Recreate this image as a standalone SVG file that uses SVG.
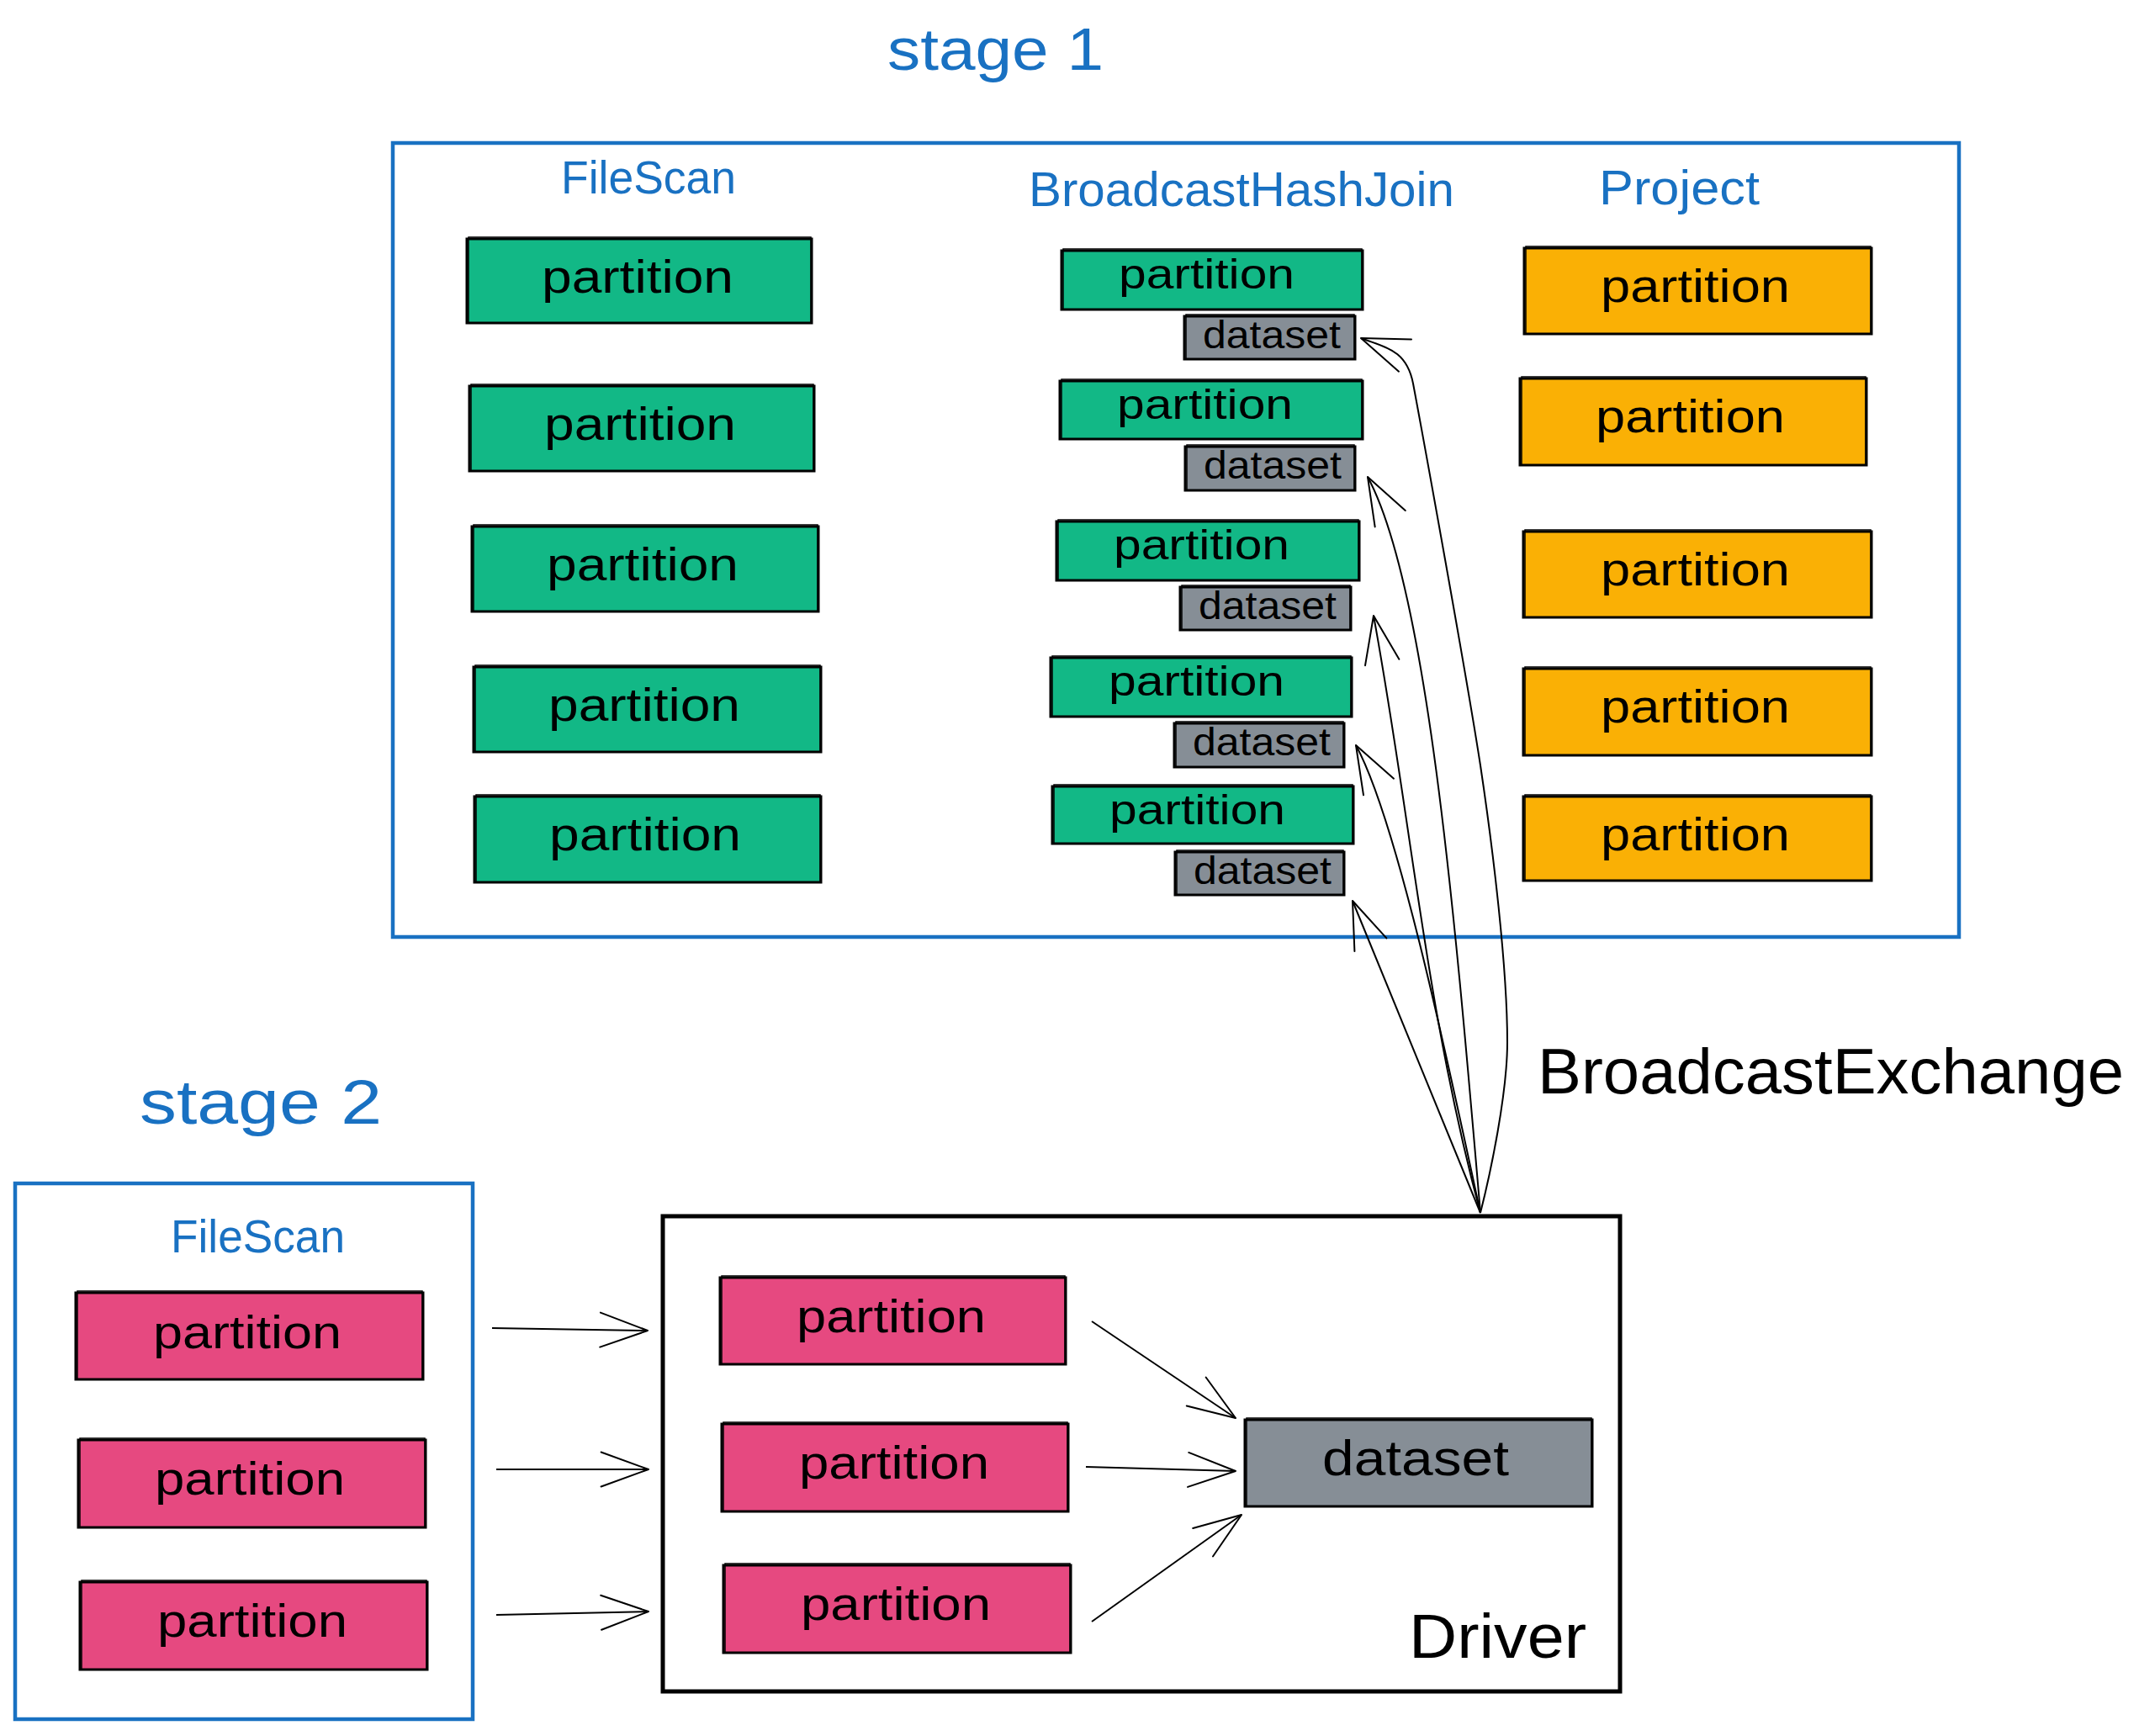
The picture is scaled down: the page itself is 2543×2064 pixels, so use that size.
<svg xmlns="http://www.w3.org/2000/svg" width="2543" height="2064" viewBox="0 0 2543 2064">
<defs>
<style>
.lbl{font-family:"Liberation Sans",Arial,sans-serif;fill:#1971c2}
.t{font-family:"Liberation Sans",Arial,sans-serif;fill:#000}
.box{stroke:#000;stroke-width:3}
.g{fill:#12b886}.o{fill:#fab005}.p{fill:#e64980}.d{fill:#868e96}
.sk{fill:none;stroke:#000;stroke-width:1.5}
.ctr{fill:none;stroke:#1971c2;stroke-width:4.5}
.drv{fill:none;stroke:#000;stroke-width:5}
.arr{fill:none;stroke:#000;stroke-width:2;marker-end:url(#ah)}
.f56{font-size:56px}.f50{font-size:50px}.f46{font-size:46px}.f60{font-size:60px}
</style>
<marker id="ah" markerUnits="userSpaceOnUse" viewBox="-70 -30 80 60" refX="0" refY="0" markerWidth="80" markerHeight="60" orient="auto" overflow="visible">
<path d="M-56.4,-20.5 L0,0 L-56.4,20.5" fill="none" stroke="#000" stroke-width="2" stroke-linecap="round" stroke-linejoin="round"/>
</marker>
</defs>
<rect width="2543" height="2064" fill="#fff"/>

<g id="stage1-title"><text class="lbl" x="1055" y="83" font-size="70" textLength="257" lengthAdjust="spacingAndGlyphs">stage 1</text></g>
<g id="stage1"><rect class="ctr" x="467" y="170" width="1862" height="944"/></g>
<g id="filescan1-label"><text class="lbl" x="667" y="230" font-size="56" textLength="208" lengthAdjust="spacingAndGlyphs">FileScan</text></g>
<g id="bhj-label"><text class="lbl" x="1223" y="245" font-size="58" textLength="506" lengthAdjust="spacingAndGlyphs">BroadcastHashJoin</text></g>
<g id="project-label"><text class="lbl" x="1901" y="243" font-size="58" textLength="191" lengthAdjust="spacingAndGlyphs">Project</text></g>

<g id="fs1-p1"><rect class="box g" x="555" y="284" width="410" height="100"/><rect class="sk" x="557" y="282" width="407" height="102"/><text class="t f56" x="644" y="348" textLength="228" lengthAdjust="spacingAndGlyphs">partition</text></g>
<g id="fs1-p2"><rect class="box g" x="558" y="459" width="410" height="101"/><rect class="sk" x="560" y="457" width="407" height="103"/><text class="t f56" x="647" y="523" textLength="228" lengthAdjust="spacingAndGlyphs">partition</text></g>
<g id="fs1-p3"><rect class="box g" x="561" y="626" width="412" height="101"/><rect class="sk" x="563" y="624" width="409" height="103"/><text class="t f56" x="650" y="690" textLength="228" lengthAdjust="spacingAndGlyphs">partition</text></g>
<g id="fs1-p4"><rect class="box g" x="563" y="793" width="413" height="101"/><rect class="sk" x="565" y="791" width="410" height="103"/><text class="t f56" x="652" y="857" textLength="228" lengthAdjust="spacingAndGlyphs">partition</text></g>
<g id="fs1-p5"><rect class="box g" x="564" y="947" width="412" height="102"/><rect class="sk" x="566" y="945" width="409" height="104"/><text class="t f56" x="653" y="1011" textLength="228" lengthAdjust="spacingAndGlyphs">partition</text></g>

<g id="bhj-p1"><rect class="box g" x="1262" y="298" width="358" height="70"/><rect class="sk" x="1264" y="296" width="355" height="72"/><text class="t f50" x="1330" y="343" textLength="209" lengthAdjust="spacingAndGlyphs">partition</text></g>
<g id="bhj-d1"><rect class="box d" x="1408" y="376" width="203" height="51"/><rect class="sk" x="1410" y="374" width="200" height="53"/><text class="t f46" x="1430" y="414" textLength="164" lengthAdjust="spacingAndGlyphs">dataset</text></g>
<g id="bhj-p2"><rect class="box g" x="1260" y="453" width="360" height="69"/><rect class="sk" x="1262" y="451" width="357" height="71"/><text class="t f50" x="1328" y="498" textLength="209" lengthAdjust="spacingAndGlyphs">partition</text></g>
<g id="bhj-d2"><rect class="box d" x="1409" y="531" width="202" height="52"/><rect class="sk" x="1411" y="529" width="199" height="54"/><text class="t f46" x="1431" y="569" textLength="164" lengthAdjust="spacingAndGlyphs">dataset</text></g>
<g id="bhj-p3"><rect class="box g" x="1256" y="620" width="360" height="70"/><rect class="sk" x="1258" y="618" width="357" height="72"/><text class="t f50" x="1324" y="665" textLength="209" lengthAdjust="spacingAndGlyphs">partition</text></g>
<g id="bhj-d3"><rect class="box d" x="1403" y="698" width="203" height="51"/><rect class="sk" x="1405" y="696" width="200" height="53"/><text class="t f46" x="1425" y="736" textLength="164" lengthAdjust="spacingAndGlyphs">dataset</text></g>
<g id="bhj-p4"><rect class="box g" x="1249" y="782" width="358" height="70"/><rect class="sk" x="1251" y="780" width="355" height="72"/><text class="t f50" x="1318" y="827" textLength="209" lengthAdjust="spacingAndGlyphs">partition</text></g>
<g id="bhj-d4"><rect class="box d" x="1396" y="860" width="202" height="52"/><rect class="sk" x="1398" y="858" width="199" height="54"/><text class="t f46" x="1418" y="898" textLength="164" lengthAdjust="spacingAndGlyphs">dataset</text></g>
<g id="bhj-p5"><rect class="box g" x="1251" y="935" width="358" height="68"/><rect class="sk" x="1253" y="933" width="355" height="70"/><text class="t f50" x="1319" y="980" textLength="209" lengthAdjust="spacingAndGlyphs">partition</text></g>
<g id="bhj-d5"><rect class="box d" x="1397" y="1013" width="201" height="51"/><rect class="sk" x="1399" y="1011" width="198" height="53"/><text class="t f46" x="1419" y="1051" textLength="164" lengthAdjust="spacingAndGlyphs">dataset</text></g>

<g id="proj-p1"><rect class="box o" x="1812" y="295" width="413" height="102"/><rect class="sk" x="1814" y="293" width="410" height="104"/><text class="t f56" x="1903" y="359" textLength="225" lengthAdjust="spacingAndGlyphs">partition</text></g>
<g id="proj-p2"><rect class="box o" x="1807" y="450" width="412" height="103"/><rect class="sk" x="1809" y="448" width="409" height="105"/><text class="t f56" x="1897" y="514" textLength="225" lengthAdjust="spacingAndGlyphs">partition</text></g>
<g id="proj-p3"><rect class="box o" x="1811" y="632" width="414" height="102"/><rect class="sk" x="1813" y="630" width="411" height="104"/><text class="t f56" x="1903" y="696" textLength="225" lengthAdjust="spacingAndGlyphs">partition</text></g>
<g id="proj-p4"><rect class="box o" x="1811" y="795" width="414" height="103"/><rect class="sk" x="1813" y="793" width="411" height="105"/><text class="t f56" x="1903" y="859" textLength="225" lengthAdjust="spacingAndGlyphs">partition</text></g>
<g id="proj-p5"><rect class="box o" x="1811" y="947" width="414" height="100"/><rect class="sk" x="1813" y="945" width="411" height="102"/><text class="t f56" x="1903" y="1011" textLength="225" lengthAdjust="spacingAndGlyphs">partition</text></g>

<g id="broadcast-label"><text class="t" x="1828" y="1300" font-size="76" textLength="697" lengthAdjust="spacingAndGlyphs">BroadcastExchange</text></g>

<g id="stage2-title"><text class="lbl" x="166" y="1336" font-size="74" textLength="288" lengthAdjust="spacingAndGlyphs">stage 2</text></g>
<g id="stage2"><rect class="ctr" x="18" y="1407" width="544" height="637"/></g>
<g id="filescan2-label"><text class="lbl" x="203" y="1489" font-size="56" textLength="207" lengthAdjust="spacingAndGlyphs">FileScan</text></g>
<g id="fs2-p1"><rect class="box p" x="90" y="1537" width="413" height="103"/><rect class="sk" x="92" y="1535" width="410" height="105"/><text class="t f56" x="182" y="1603" textLength="224" lengthAdjust="spacingAndGlyphs">partition</text></g>
<g id="fs2-p2"><rect class="box p" x="93" y="1712" width="413" height="104"/><rect class="sk" x="95" y="1710" width="410" height="106"/><text class="t f56" x="184" y="1777" textLength="226" lengthAdjust="spacingAndGlyphs">partition</text></g>
<g id="fs2-p3"><rect class="box p" x="95" y="1881" width="413" height="104"/><rect class="sk" x="97" y="1879" width="410" height="106"/><text class="t f56" x="187" y="1946" textLength="226" lengthAdjust="spacingAndGlyphs">partition</text></g>

<g id="driver"><rect class="drv" x="788" y="1446" width="1138" height="565"/><text class="t" x="1675" y="1971" font-size="74" textLength="211" lengthAdjust="spacingAndGlyphs">Driver</text></g>
<g id="drv-p1"><rect class="box p" x="856" y="1519" width="411" height="103"/><rect class="sk" x="858" y="1517" width="408" height="105"/><text class="t f56" x="947" y="1584" textLength="225" lengthAdjust="spacingAndGlyphs">partition</text></g>
<g id="drv-p2"><rect class="box p" x="858" y="1693" width="412" height="104"/><rect class="sk" x="860" y="1691" width="409" height="106"/><text class="t f56" x="950" y="1758" textLength="226" lengthAdjust="spacingAndGlyphs">partition</text></g>
<g id="drv-p3"><rect class="box p" x="860" y="1861" width="413" height="104"/><rect class="sk" x="862" y="1859" width="410" height="106"/><text class="t f56" x="952" y="1926" textLength="226" lengthAdjust="spacingAndGlyphs">partition</text></g>
<g id="drv-dataset"><rect class="box d" x="1480" y="1688" width="413" height="103"/><rect class="sk" x="1482" y="1686" width="410" height="105"/><text class="t f60" x="1572" y="1754" textLength="222" lengthAdjust="spacingAndGlyphs">dataset</text></g>

<g id="connectors">
<path class="arr" d="M1760,1442 C1772,1395 1792,1300 1792,1239 C1792,1150 1775,1010 1760,910 C1743,800 1692,520 1680,456 C1672,415 1646,413 1618,402"/>
<path class="arr" d="M1760,1442 C1730,1093 1697,699 1626,567"/>
<path class="arr" d="M1760,1442 C1695,1200 1678,977 1633,732"/>
<path class="arr" d="M1760,1442 C1718,1246 1660,974 1612,886"/>
<path class="arr" d="M1760,1442 L1608,1071"/>
<path class="arr" d="M585,1579 L770,1582"/>
<path class="arr" d="M590,1747 L771,1747"/>
<path class="arr" d="M590,1920 L771,1916"/>
<path class="arr" d="M1298,1571 L1469,1686"/>
<path class="arr" d="M1291,1744 L1469,1749"/>
<path class="arr" d="M1298,1928 L1476,1801"/>
</g>
</svg>
